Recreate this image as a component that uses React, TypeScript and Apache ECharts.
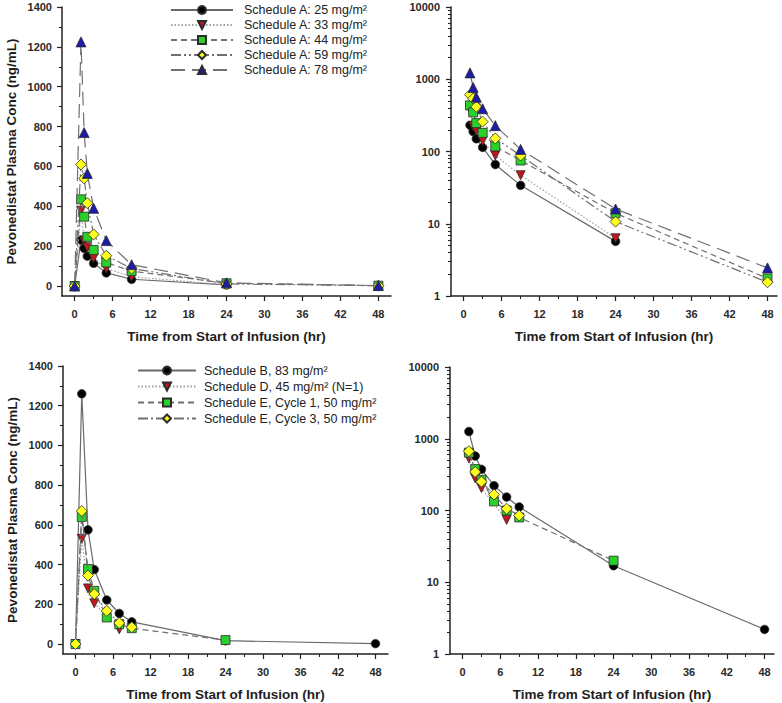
import React, { useEffect, useRef } from "react";
import * as echarts from "echarts";

const FONT = "'Liberation Sans', Arial, Helvetica, sans-serif";

// ---------- Top panels: Schedule A ----------
const timesA = [0, 1, 1.5, 2, 3, 5, 9, 24, 48];
const schedA25 = [0, 231, 189, 150, 114, 66, 34, 5.7, null];
const schedA33 = [0, 378, 225, 195, 140, 88, 47, 6.3, null];
const schedA44 = [0, 435, 348, 247, 181, 118, 75, 14, 1.75];
const schedA59 = [0, 610, 540, 416, 259, 152, 88, 10.7, 1.55];
const schedA78 = [0, 1225, 770, 565, 390, 228, 107, 16, 2.45];
const namesA = [
  "Schedule A: 25 mg/m²",
  "Schedule A: 33 mg/m²",
  "Schedule A: 44 mg/m²",
  "Schedule A: 59 mg/m²",
  "Schedule A: 78 mg/m²",
];

// ---------- Bottom panels: Schedules B, D, E ----------
const timesB = [0, 1, 2, 3, 5, 7, 9, 24, 48];
const schedB83 = [0, 1260, 575, 375, 222, 154, 112, 17, 2.2];
const schedD45 = [0, 530, 280, 205, null, 74, null, null, null];
const schedE1 = [0, 640, 378, 268, 134, 100, 80, 20, null];
const schedE3 = [0, 670, 345, 252, 167, 106, 85, null, null];
const namesB = [
  "Schedule B, 83 mg/m²",
  "Schedule D, 45 mg/m² (N=1)",
  "Schedule E, Cycle 1, 50 mg/m²",
  "Schedule E, Cycle 3, 50 mg/m²",
];

// ---------- Axis ticks ----------
const xMajorTicks = [0, 6, 12, 18, 24, 30, 36, 42, 48];
const xMinorTicks = [3, 9, 15, 21, 27, 33, 39, 45];
const yLinMajorTicks = [0, 200, 400, 600, 800, 1000, 1200, 1400];
const yLinMinorTicks = [100, 300, 500, 700, 900, 1100, 1300];
const yLogMinorTicks = [
  2, 3, 4, 5, 6, 7, 8, 9,
  20, 30, 40, 50, 60, 70, 80, 90,
  200, 300, 400, 500, 600, 700, 800, 900,
  2000, 3000, 4000, 5000, 6000, 7000, 8000, 9000,
];

// ---------- Styles ----------
const DOWN_TRI = "path://M0,0L10,0L5,9Z";
const stylesA = [
  { symbol: "circle", size: 8.5, fill: "#000000", dash: "solid", line: "#6a6a6a" },
  { symbol: DOWN_TRI, size: 9, fill: "#c3161c", dash: [1.5, 2], line: "#a0a0a0" },
  { symbol: "rect", size: 9, fill: "#2ad12a", dash: [6, 4], line: "#707070" },
  { symbol: "diamond", size: 11, fill: "#ffff1e", dash: [10, 3, 2, 3, 2, 3], line: "#707070" },
  { symbol: "triangle", size: 10, fill: "#1c1ca6", dash: [14, 7], line: "#707070" },
];
const stylesB = [
  { symbol: "circle", size: 8.5, fill: "#000000", dash: "solid", line: "#6a6a6a" },
  { symbol: DOWN_TRI, size: 9, fill: "#c3161c", dash: [1.5, 2], line: "#a0a0a0" },
  { symbol: "rect", size: 9, fill: "#2ad12a", dash: [6, 4], line: "#707070" },
  { symbol: "diamond", size: 11, fill: "#ffff1e", dash: [10, 3, 2, 3], line: "#707070" },
];

const AXIS_COLOR = "#222";
const LABEL_STYLE = { fontSize: 11, fontWeight: "bold" as const, color: "#2a2a2a", fontFamily: FONT };
const NAME_STYLE = { fontSize: 13.5, fontWeight: "bold" as const, color: "#1e1e1e", fontFamily: FONT };

function pts(times: number[], vals: (number | null)[], log: boolean) {
  const out: number[][] = [];
  times.forEach((t, i) => {
    const v = vals[i];
    if (v == null) return;
    if (log && v <= 0) return;
    out.push([t, v]);
  });
  return out;
}

function xAxesFor(gridIndex: number, max: number) {
  return [
    {
      type: "value", gridIndex, min: -2, max, position: "bottom",
      axisLine: { show: true, onZero: false, lineStyle: { color: AXIS_COLOR, width: 1.5 } },
      axisTick: { show: true, inside: false, length: 5, customValues: xMajorTicks, lineStyle: { color: AXIS_COLOR, width: 1.2 } },
      axisLabel: { show: true, customValues: xMajorTicks, margin: 12, ...LABEL_STYLE, formatter: (v: number) => String(v) },
      splitLine: { show: false },
      name: "Time from Start of Infusion (hr)", nameLocation: "middle", nameGap: 33, nameTextStyle: NAME_STYLE,
    },
    {
      type: "value", gridIndex, min: -2, max, position: "bottom",
      axisLine: { show: false, onZero: false },
      axisTick: { show: true, inside: false, length: 3, customValues: xMinorTicks, lineStyle: { color: AXIS_COLOR, width: 1.1 } },
      axisLabel: { show: false },
      splitLine: { show: false },
    },
  ];
}

function yLinAxesFor(gridIndex: number) {
  return [
    {
      type: "value", gridIndex, min: -50, max: 1400, position: "left",
      axisLine: { show: true, onZero: false, lineStyle: { color: AXIS_COLOR, width: 1.5 } },
      axisTick: { show: true, inside: false, length: 5, customValues: yLinMajorTicks, lineStyle: { color: AXIS_COLOR, width: 1.2 } },
      axisLabel: { show: true, customValues: yLinMajorTicks, margin: 10, ...LABEL_STYLE, formatter: (v: number) => String(v) },
      splitLine: { show: false },
      name: "Pevonedistat Plasma Conc (ng/mL)", nameLocation: "middle", nameGap: 44, nameTextStyle: NAME_STYLE,
    },
    {
      type: "value", gridIndex, min: -50, max: 1400, position: "left",
      axisLine: { show: false, onZero: false },
      axisTick: { show: true, inside: false, length: 3, customValues: yLinMinorTicks, lineStyle: { color: AXIS_COLOR, width: 1.1 } },
      axisLabel: { show: false },
      splitLine: { show: false },
    },
  ];
}

function yLogAxesFor(gridIndex: number) {
  return [
    {
      type: "log", logBase: 10, gridIndex, min: 1, max: 10000, position: "left",
      axisLine: { show: true, onZero: false, lineStyle: { color: AXIS_COLOR, width: 1.5 } },
      axisTick: { show: true, inside: false, length: 5, lineStyle: { color: AXIS_COLOR, width: 1.2 } },
      axisLabel: { show: true, margin: 11, ...LABEL_STYLE, formatter: (v: number) => String(Math.round(v)) },
      splitLine: { show: false },
    },
    {
      type: "log", logBase: 10, gridIndex, min: 1, max: 10000, position: "left",
      axisLine: { show: false, onZero: false },
      axisTick: { show: true, inside: false, length: 3, customValues: yLogMinorTicks, lineStyle: { color: AXIS_COLOR, width: 1.1 } },
      axisLabel: { show: false },
      splitLine: { show: false },
    },
  ];
}

function seriesFor(
  names: string[],
  times: number[],
  values: (number | null)[][],
  styles: any[],
  axisIndex: number,
  log: boolean
) {
  return names.map((name, i) => {
    const s = styles[i];
    return {
      type: "line",
      name,
      xAxisIndex: axisIndex,
      yAxisIndex: axisIndex,
      data: pts(times, values[i], log),
      symbol: s.symbol,
      symbolSize: s.size,
      showAllSymbol: true,
      itemStyle: { color: s.fill, borderColor: "#2b2b2b", borderWidth: 0.8, opacity: 1 },
      lineStyle: { color: s.line, width: 1.2, type: s.dash },
      emphasis: { disabled: true },
      silent: true,
      z: 2 + i,
    };
  });
}

export default function App() {
  const ref = useRef<HTMLDivElement>(null);

  useEffect(() => {
    document.body.style.margin = "0";
    if (!ref.current) return;
    const chart = echarts.init(ref.current, undefined, { renderer: "svg" });

    const valuesA = [schedA25, schedA33, schedA44, schedA59, schedA78];
    const valuesB = [schedB83, schedD45, schedE1, schedE3];

    const option: any = {
      animation: false,
      backgroundColor: "#ffffff",
      textStyle: { fontFamily: FONT },
      grid: [
        { left: 62, top: 7, width: 329, height: 289, outerBoundsMode: "none" },
        { left: 451, top: 7, width: 326, height: 289, outerBoundsMode: "none" },
        { left: 63, top: 366, width: 325, height: 288, outerBoundsMode: "none" },
        { left: 450, top: 367, width: 324, height: 287, outerBoundsMode: "none" },
      ],
      xAxis: [
        ...xAxesFor(0, 50),
        ...xAxesFor(1, 49.5),
        ...xAxesFor(2, 50),
        ...xAxesFor(3, 49.5),
      ],
      yAxis: [
        ...yLinAxesFor(0),
        ...yLogAxesFor(1),
        ...yLinAxesFor(2),
        ...yLogAxesFor(3),
      ],
      legend: [
        {
          data: namesA,
          orient: "vertical",
          left: 170,
          top: 2.5,
          padding: 0,
          itemGap: 0,
          itemWidth: 62,
          itemHeight: 10,
          selectedMode: false,
          textStyle: { fontSize: 12.5, color: "#222", fontFamily: FONT, lineHeight: 15, padding: [0, 0, 0, 6] },
        },
        {
          data: namesB,
          orient: "vertical",
          left: 137,
          top: 362.5,
          padding: 0,
          itemGap: 0,
          itemWidth: 58,
          itemHeight: 10,
          selectedMode: false,
          textStyle: { fontSize: 12.5, color: "#222", fontFamily: FONT, lineHeight: 16, padding: [0, 0, 0, 3] },
        },
      ],
      series: [
        ...seriesFor(namesA, timesA, valuesA, stylesA, 0, false),
        ...seriesFor(namesA, timesA, valuesA, stylesA, 2, true),
        ...seriesFor(namesB, timesB, valuesB, stylesB, 4, false),
        ...seriesFor(namesB, timesB, valuesB, stylesB, 6, true),
      ],
    };

    chart.setOption(option);
    return () => chart.dispose();
  }, []);

  return <div ref={ref} style={{ width: 782, height: 703 }} />;
}
